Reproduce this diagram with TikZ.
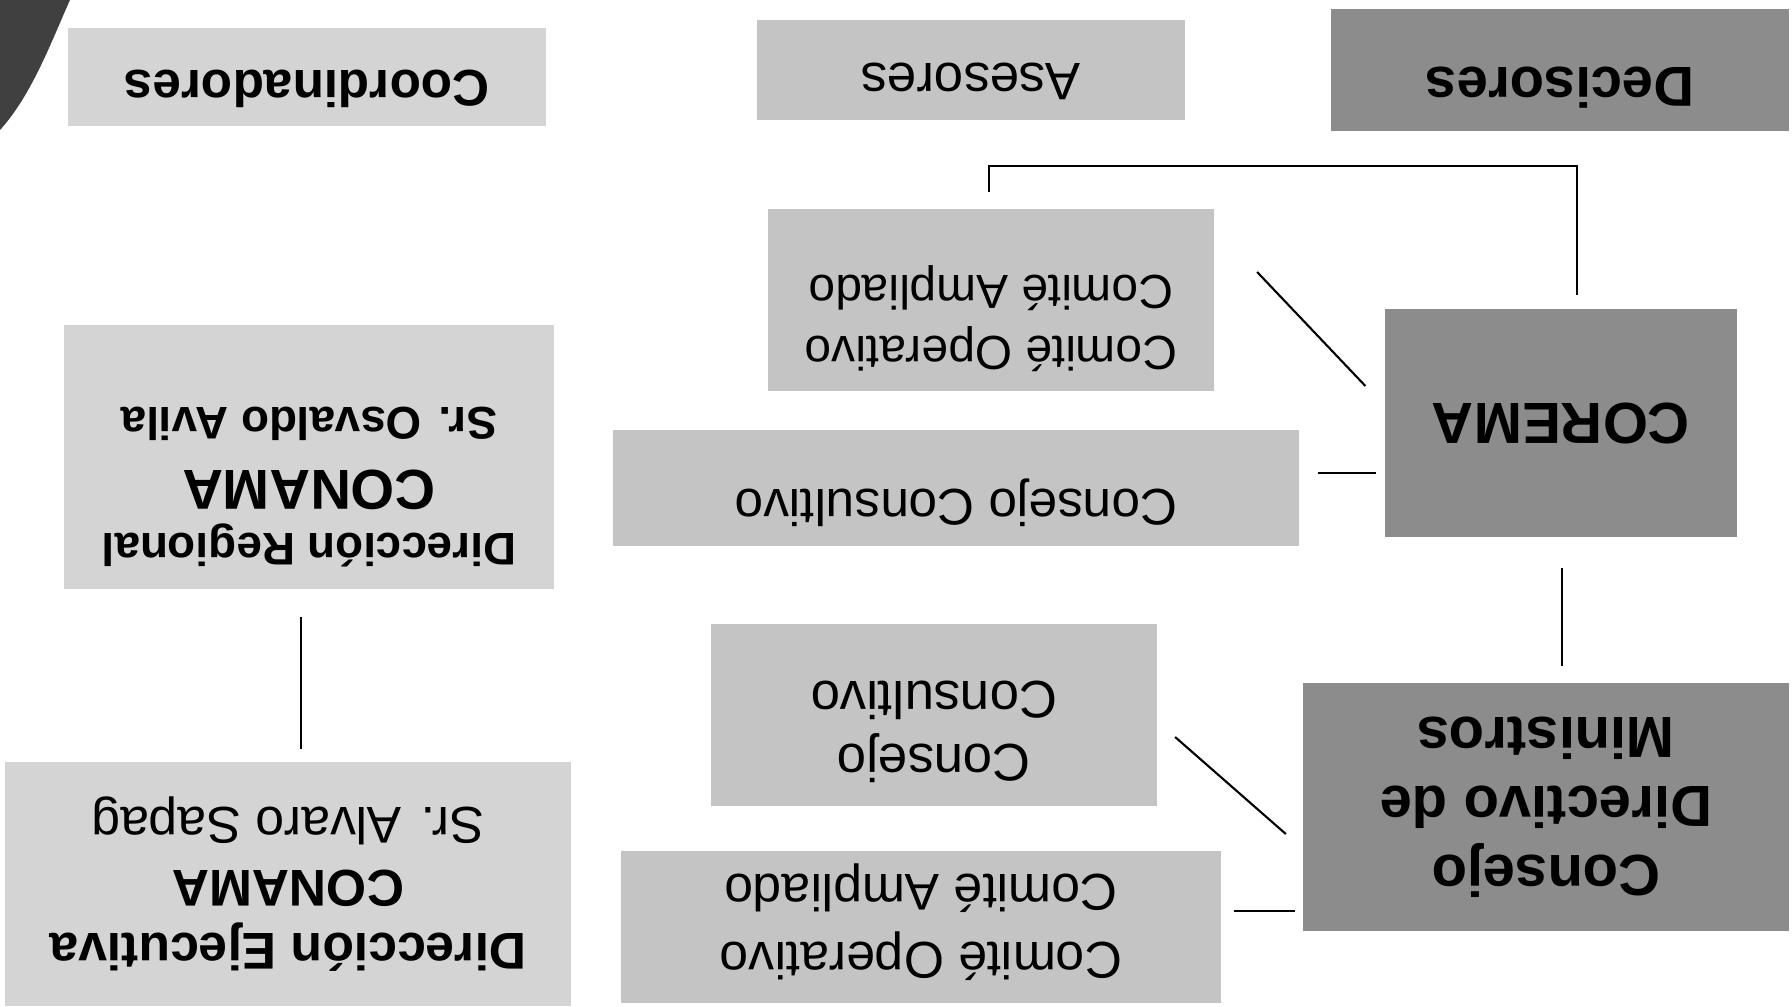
\documentclass[tikz,border=0pt]{standalone}
\usepackage{fontspec}
\setmainfont{Liberation Sans}
\usetikzlibrary{calc}

\begin{document}
\begin{tikzpicture}[
    x=0.01cm, y=0.01cm, rotate=180, transform shape,
    box/.style={rectangle, inner sep=0pt, outer sep=0pt},
    dark/.style={box, fill=black!45},
    mid/.style={box, fill=black!23},
    pale/.style={box, fill=black!17},
    txt/.style={align=center, inner sep=0pt},
    link/.style={draw=black, line width=0.6pt},
  ]
    \useasboundingbox (0,0) rectangle (1792,1006);

    % scanner shadow in the corner
    \fill[black!75] (1792,0) -- (1722,0) .. controls (1740,40) and (1760,95) .. (1792,130) -- cycle;

    % column heads
    \node[dark, minimum width=4.58cm, minimum height=1.22cm,
      label={[txt, yshift=0.18cm, font=\fontsize{16}{19}\selectfont\bfseries]center:Decisores}]
      (decis) at (232,70) {};
    \node[mid, minimum width=4.28cm, minimum height=0.99cm,
      label={[txt, yshift=0.11cm, font=\fontsize{15}{18}\selectfont]center:Asesores}]
      (ases) at (821,70) {};
    \node[pale, minimum width=4.77cm, minimum height=0.97cm,
      label={[txt, yshift=0.12cm, font=\fontsize{14.6}{17}\selectfont\bfseries]center:Coordinadores}]
      (coord) at (1485,77) {};

    % decisores
    \node[dark, minimum width=3.51cm, minimum height=2.28cm,
      label={[txt, font=\fontsize{16.5}{19}\selectfont\bfseries]center:COREMA}]
      (corema) at (231,423) {};
    \node[dark, minimum width=4.86cm, minimum height=2.48cm,
      label={[txt, font=\fontsize{16.5}{19.6}\selectfont\bfseries]center:{Consejo\\Directivo de\\Ministros}}]
      (condir) at (246,807) {};

    % asesores
    \node[mid, minimum width=4.46cm, minimum height=1.82cm,
      label={[txt, yshift=0.19cm, font=\fontsize{13.6}{17.4}\selectfont]center:{Comité Operativo\\Comité Ampliado}}]
      (comtop) at (801,300) {};
    \node[mid, minimum width=6.85cm, minimum height=1.16cm,
      label={[txt, yshift=0.15cm, font=\fontsize{14.6}{17}\selectfont]center:Consejo Consultivo}]
      (conswide) at (836,488) {};
    \node[mid, minimum width=4.46cm, minimum height=1.81cm,
      label={[txt, yshift=0.17cm, font=\fontsize{15}{18}\selectfont]center:{Consejo\\Consultivo}}]
      (consc) at (858,715) {};
    \node[mid, minimum width=6.00cm, minimum height=1.52cm,
      label={[txt, yshift=-0.05cm, font=\fontsize{14.7}{19.5}\selectfont]center:{Comité Operativo\\Comité Ampliado}}]
      (combot) at (871,927) {};

    % coordinadores
    \node[pale, minimum width=4.89cm, minimum height=2.63cm,
      label={[txt, yshift=0.3cm, font=\fontsize{13}{18}\selectfont\bfseries]center:{Dirección Regional\\{\fontsize{16}{18}\selectfont CONAMA}\\Sr. Osvaldo Avila}}]
      (dirreg) at (1483,457) {};
    \node[pale, minimum width=5.65cm, minimum height=2.43cm,
      label={[txt, font=\fontsize{14.7}{18}\selectfont]center:{\textbf{Dirección Ejecutiva}\\\textbf{CONAMA}\\Sr. Alvaro Sapag}}]
      (direj) at (1504,884) {};

    % links
    \draw[link] ($(corema.south)+(-16,-14)$) -- ($(corema.south)+(-16,-143)$)
      -| ($(comtop.south)+(2,-17)$);
    \draw[link] ($(corema.east)+(20,-37)$) -- ($(comtop.west)+(-43,-28)$);
    \draw[link] ($(corema.east)+(9,50)$) -- ($(conswide.west)+(-19,-15)$);
    \draw[link] ($(corema.north)+(-1,31)$) -- ($(condir.south)+(-16,-17)$);
    \draw[link] ($(condir.east)+(17,27)$) -- ($(consc.west)+(-18,22)$);
    \draw[link] ($(condir.east)+(8,104)$) -- ($(combot.west)+(-13,-16)$);
    \draw[link] ($(dirreg.north)+(8,28)$) -- ($(direj.south)+(-13,-13)$);
\end{tikzpicture}
\end{document}
